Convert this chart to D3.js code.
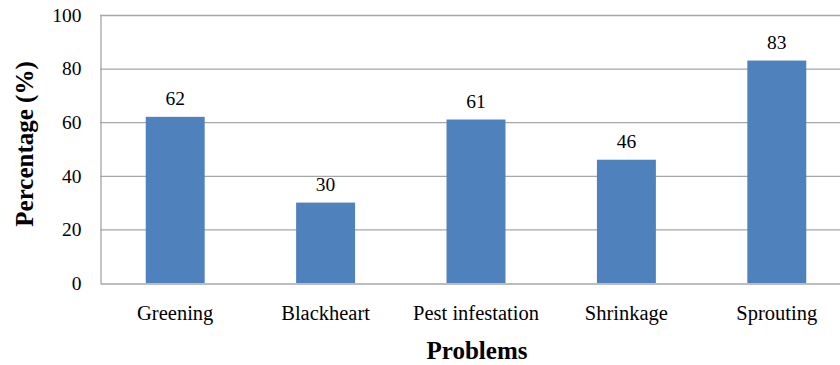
<!DOCTYPE html>
<html>
<head>
<meta charset="utf-8">
<script src="https://cdn.jsdelivr.net/npm/d3@7"></script>
<style>
  html, body { margin: 0; padding: 0; background: #fff; }
  svg { display: block; }
  text { font-family: "Liberation Serif", "Times New Roman", serif; fill: #000; }
</style>
</head>
<body>
<svg id="chart" width="840" height="365"></svg>
<script>
// Storage problems reported (percentage of respondents)
const categories = ["Greening", "Blackheart", "Pest infestation", "Shrinkage", "Sprouting"];
const values = [62, 30, 61, 46, 83];
const yTicks = [0, 20, 40, 60, 80, 100];

const svg = d3.select("#chart");
const plot = { left: 100, right: 852, top: 15, bottom: 283 };

const x = d3.scaleBand()
  .domain(categories)
  .range([plot.left, plot.right])
  .paddingInner(0.608)
  .paddingOuter(0.304);

const y = d3.scaleLinear().domain([0, 100]).range([plot.bottom, plot.top]);

// Horizontal gridlines
svg.append("g")
  .selectAll("line")
  .data(yTicks.filter(d => d > 0))
  .join("line")
  .attr("x1", plot.left).attr("x2", plot.right)
  .attr("y1", d => y(d) + 0.5).attr("y2", d => y(d) + 0.5)
  .attr("stroke", "#a6a6a6").attr("stroke-width", 1.3);

// Bars
svg.append("g")
  .selectAll("rect")
  .data(values)
  .join("rect")
  .attr("x", (d, i) => x(categories[i]))
  .attr("width", x.bandwidth())
  .attr("y", d => y(d))
  .attr("height", d => y(0) - y(d))
  .attr("fill", "#4f81bd");

// Value labels
svg.append("g")
  .selectAll("text")
  .data(values)
  .join("text")
  .attr("x", (d, i) => x(categories[i]) + x.bandwidth() / 2)
  .attr("y", d => y(d) - 12)
  .attr("text-anchor", "middle")
  .style("font-size", "19.5px")
  .text(d => d);

// Y axis
const yAxis = svg.append("g")
  .attr("transform", `translate(${plot.left + 0.5},0)`)
  .call(d3.axisLeft(y).tickValues(yTicks).tickSize(0).tickPadding(19));
yAxis.select(".domain").attr("stroke", "#a6a6a6").attr("stroke-width", 1.3);
yAxis.selectAll("text").style("font-size", "19.5px").attr("fill", "#000");

// X axis
const xAxis = svg.append("g")
  .attr("transform", `translate(0,${plot.bottom + 0.5})`)
  .call(d3.axisBottom(x).tickSize(0).tickPadding(22));
xAxis.select(".domain").attr("stroke", "#a6a6a6").attr("stroke-width", 1.3);
xAxis.selectAll("text").style("font-size", "20.5px").attr("fill", "#000");

// Axis titles
svg.append("text")
  .attr("transform", `translate(33,${(plot.top + plot.bottom) / 2 - 5}) rotate(-90)`)
  .attr("text-anchor", "middle")
  .style("font-size", "25px")
  .attr("font-weight", "bold")
  .text("Percentage (%)");

svg.append("text")
  .attr("x", 477)
  .attr("y", 359)
  .attr("text-anchor", "middle")
  .style("font-size", "25px")
  .attr("font-weight", "bold")
  .text("Problems");
</script>
</body>
</html>
